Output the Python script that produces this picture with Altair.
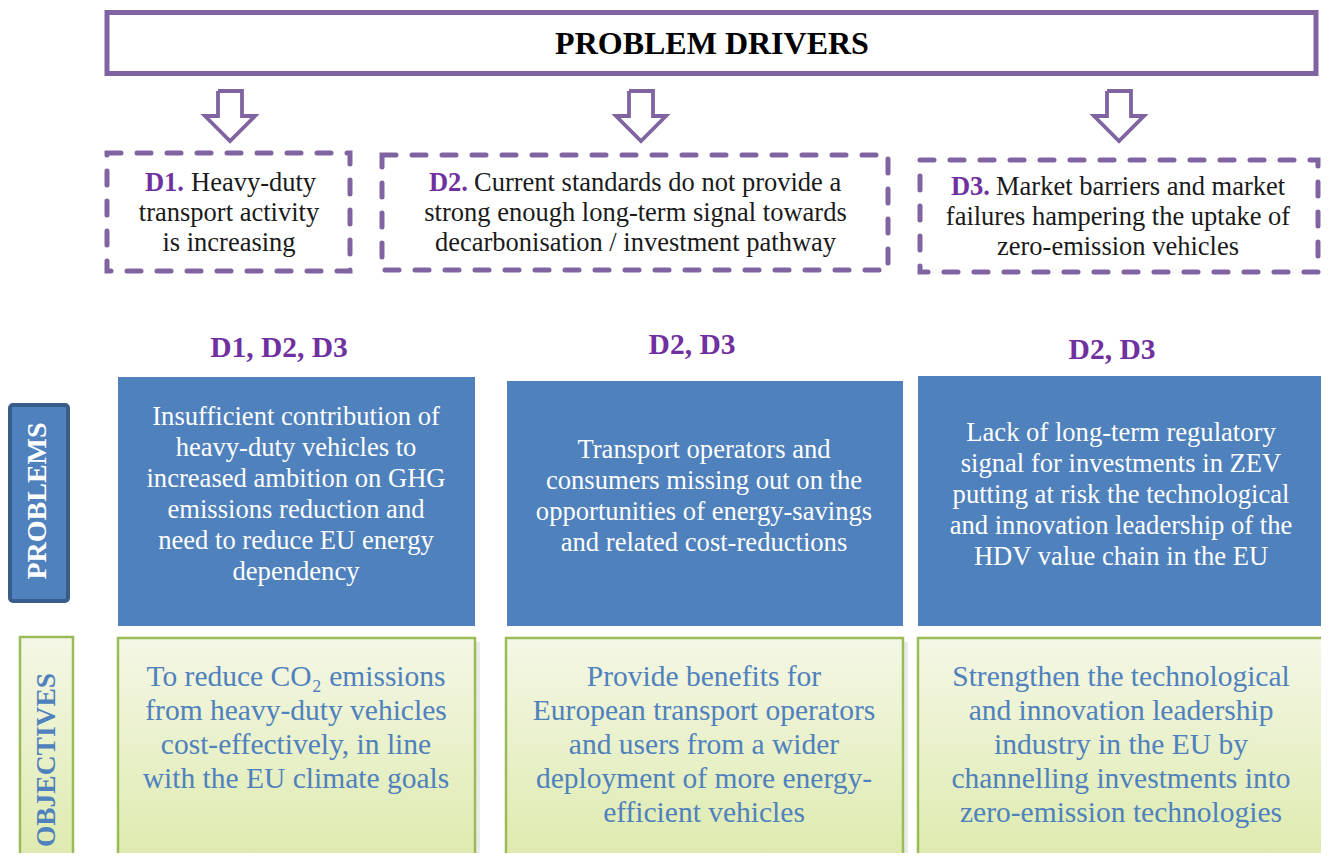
import altair as alt
import pandas as pd

FONT = "Liberation Serif"
PURPLE = "#8064A2"
DPURPLE = "#7030A0"
BLUE = "#4F81BD"
DBLUE = "#385D8A"
GREEN = "#9BBB59"

# ---------------- content ----------------
header_text = ["PROBLEM DRIVERS"]
driver_prefix = ["D1.", "D2.", "D3."]
driver_first = ["Heavy-duty", "Current standards do not provide a", "Market barriers and market"]
driver_rest = [
    ["transport activity", "is increasing"],
    ["strong enough long-term signal towards", "decarbonisation / investment pathway"],
    ["failures hampering the uptake of", "zero-emission vehicles"],
]
links = ["D1, D2, D3", "D2, D3", "D2, D3"]
problems = [
    ["Insufficient contribution of", "heavy-duty vehicles to", "increased ambition on GHG",
     "emissions reduction and", "need to reduce EU energy", "dependency"],
    ["Transport operators and", "consumers missing out on the",
     "opportunities of energy-savings", "and related cost-reductions"],
    ["Lack of long-term regulatory", "signal for investments in ZEV",
     "putting at risk the technological", "and innovation leadership of the",
     "HDV value chain in the EU"],
]
objectives = [
    ["To reduce CO\u2082 emissions", "from heavy-duty vehicles",
     "cost-effectively, in line", "with the EU climate goals"],
    ["Provide benefits for", "European transport operators", "and users from a wider",
     "deployment of more energy-", "efficient vehicles"],
    ["Strengthen the technological", "and innovation leadership", "industry in the EU by",
     "channelling investments into", "zero-emission technologies"],
]
side_labels = ["PROBLEMS", "OBJECTIVES"]

# ---------------- layout (page pixels) ----------------
header_box = [107, 1316, 12.5, 73.5]
header_pos = [712, 44]
arrow_cx = [230, 641, 1119]
arrow_top, arrow_neck, arrow_tip = 91, 116, 141
arrow_shaft_half, arrow_head_half = 12, 25
dbox_x = [107, 382, 920]
dbox_x2 = [350, 888, 1318]
dbox_y = [153, 155, 160]
dbox_y2 = [271, 270, 272]
dprefix_end = [184, 468, 990]
dfirst_start = [191, 474, 996]
dcenter = [229, 635.5, 1118]
dline_y = [[183, 213, 243], [183, 213, 243], [187, 217, 247]]
link_x = [279, 692, 1112]
link_y = [348, 345, 350]
pbox_x = [118, 507, 918]
pbox_x2 = [475, 903, 1325]
pbox_y = [377, 381, 376]
pbox_y2 = [626, 626, 626]
pcenter = [296, 704, 1121]
pfirst_y = [417, 450, 433]
p_step = 31
obox_x = [118, 506, 918]
obox_x2 = [475, 903, 1324]
obox_y = 638
obox_y2 = 880
ofirst_y = 677
o_step = 34
side_box = [[8, 70, 403, 603], [20, 73, 637, 880]]
side_pos = [[38, 501], [47, 760]]

W, H = 1313, 845
X0, Y0 = 8, 8

xs = alt.Scale(domain=[X0, X0 + W], range=[0, W])
ys = alt.Scale(domain=[Y0, Y0 + H], range=[0, H])


def X(f="x"):
    return alt.X(f"{f}:Q", scale=xs, axis=None)


def Y(f="y"):
    return alt.Y(f"{f}:Q", scale=ys, axis=None)


def X2(f="x2"):
    return alt.X2(f"{f}:Q")


def Y2(f="y2"):
    return alt.Y2(f"{f}:Q")


def rects(df, **kw):
    return alt.Chart(df).mark_rect(**kw).encode(x=X(), x2=X2(), y=Y(), y2=Y2())


def texts(df, **kw):
    base = dict(font=FONT, baseline="middle")
    base.update(kw)
    return alt.Chart(df).mark_text(**base).encode(x=X(), y=Y(), text="text:N")


layers = []

# header box
layers.append(rects(pd.DataFrame([dict(x=header_box[0], x2=header_box[1], y=header_box[2], y2=header_box[3])]),
                    fill="white", stroke=PURPLE, strokeWidth=5))
layers.append(texts(pd.DataFrame([dict(x=header_pos[0], y=header_pos[1], text=header_text[0])]),
                    fontSize=32, fontWeight="bold", color="black", align="center"))

# hollow arrows
arr = []
for i, cx in enumerate(arrow_cx):
    pts = [(cx - arrow_shaft_half, arrow_top), (cx + arrow_shaft_half, arrow_top),
           (cx + arrow_shaft_half, arrow_neck), (cx + arrow_head_half, arrow_neck),
           (cx, arrow_tip), (cx - arrow_head_half, arrow_neck),
           (cx - arrow_shaft_half, arrow_neck), (cx - arrow_shaft_half, arrow_top)]
    for k, (px, py) in enumerate(pts):
        arr.append(dict(a=i, o=k, x=px, y=py))
layers.append(alt.Chart(pd.DataFrame(arr)).mark_line(color=PURPLE, strokeWidth=3.8, strokeJoin="miter")
              .encode(x=X(), y=Y(), detail="a:N", order="o:Q"))

# dashed driver boxes
layers.append(rects(pd.DataFrame(dict(x=dbox_x, x2=dbox_x2, y=dbox_y, y2=dbox_y2)),
                    fill="white", stroke=PURPLE, strokeWidth=5, strokeDash=[14, 16], strokeCap="round"))
layers.append(texts(pd.DataFrame(dict(x=dprefix_end, y=[l[0] for l in dline_y], text=driver_prefix)),
                    fontSize=26.5, fontWeight="bold", color=DPURPLE, align="right"))
layers.append(texts(pd.DataFrame(dict(x=dfirst_start, y=[l[0] for l in dline_y], text=driver_first)),
                    fontSize=26.5, color="#1a1a1a", align="left"))
rest = []
for i in range(3):
    for j, t in enumerate(driver_rest[i]):
        rest.append(dict(x=dcenter[i], y=dline_y[i][j + 1], text=t))
layers.append(texts(pd.DataFrame(rest), fontSize=26.5, color="#1a1a1a", align="center"))

# link labels
layers.append(texts(pd.DataFrame(dict(x=link_x, y=link_y, text=links)),
                    fontSize=29.5, fontWeight="bold", color=DPURPLE, align="center"))

# problem boxes
layers.append(rects(pd.DataFrame(dict(x=pbox_x, x2=pbox_x2, y=pbox_y, y2=pbox_y2)), fill=BLUE))
pt = []
for i in range(3):
    for j, t in enumerate(problems[i]):
        pt.append(dict(x=pcenter[i], y=pfirst_y[i] + j * p_step, text=t))
layers.append(texts(pd.DataFrame(pt), fontSize=26.6, color="white", align="center"))

# objective boxes (shadow + gradient)
grad = alt.Gradient(gradient="linear",
                    stops=[alt.GradientStop(color="#F4F7E6", offset=0),
                           alt.GradientStop(color="#DCE9A9", offset=1)],
                    x1=0, x2=0, y1=0, y2=1)
odf = pd.DataFrame(dict(x=obox_x, x2=obox_x2, y=[obox_y] * 3, y2=[obox_y2] * 3))
sdf = odf.copy()
sdf["x"] = sdf["x"] + 5
sdf["x2"] = sdf["x2"] + 5
sdf["y"] = sdf["y"] + 4
sdf["y2"] = sdf["y2"] + 4
layers.append(rects(sdf, fill="#d0d0d0", opacity=0.45))
layers.append(rects(odf, fill=grad, stroke=GREEN, strokeWidth=2.5))
ot = []
for i in range(3):
    for j, t in enumerate(objectives[i]):
        ot.append(dict(x=pcenter[i], y=ofirst_y + j * o_step, text=t))
layers.append(texts(pd.DataFrame(ot), fontSize=29.5, color=BLUE, align="center"))

# side labels
layers.append(rects(pd.DataFrame([dict(x=side_box[0][0] + 2, x2=side_box[0][1] - 2, y=side_box[0][2] + 2, y2=side_box[0][3] - 2)]),
                    fill=BLUE, stroke=DBLUE, strokeWidth=4, cornerRadius=3))
layers.append(rects(pd.DataFrame([dict(x=side_box[1][0], x2=side_box[1][1], y=side_box[1][2], y2=side_box[1][3])]),
                    fill=grad, stroke=GREEN, strokeWidth=2.5))
layers.append(texts(pd.DataFrame([dict(x=side_pos[0][0], y=side_pos[0][1], text=side_labels[0])]),
                    fontSize=28, fontWeight="bold", color="white", align="center", angle=270))
layers.append(texts(pd.DataFrame([dict(x=side_pos[1][0], y=side_pos[1][1], text=side_labels[1])]),
                    fontSize=27.5, fontWeight="bold", color=BLUE, align="center", angle=270))

chart = (alt.layer(*layers)
         .properties(width=W, height=H, padding=0, autosize=alt.AutoSizeParams(type="none"))
         .configure_view(strokeWidth=0))

chart.save("out.html", embed_options={"renderer": "svg", "actions": False})
